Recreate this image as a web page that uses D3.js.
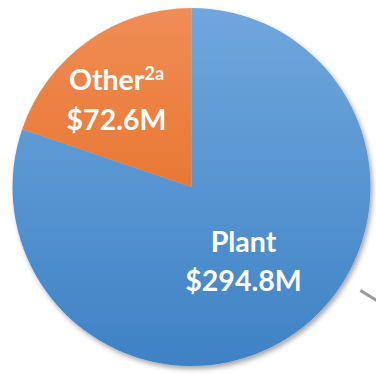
<!DOCTYPE html>
<html>
<head>
<meta charset="utf-8">
<script src="https://cdn.jsdelivr.net/npm/d3@7"></script>
<style>
  html, body { margin: 0; padding: 0; background: #fff; }
  svg { display: block; }
</style>
</head>
<body>
<svg id="chart" width="376" height="375"></svg>
<script>
// slice data, in drawing order (clockwise from 12 o'clock)
var categories = ["Plant", "Other"];
var values = [294.8, 72.6];
var valueLabels = ["$294.8M", "$72.6M"];
var superscripts = ["", "2a"];
var colorsTop = ["#70a7dd", "#f08d56"];
var colorsBottom = ["#3e82c5", "#e0640f"];

var cx = 191.5, cy = 187, radius = 179;

var svg = d3.select("#chart");
var defs = svg.append("defs");

// soft shadow like the office chart
var shadow = defs.append("filter")
  .attr("id", "shadow")
  .attr("x", "-10%").attr("y", "-10%")
  .attr("width", "120%").attr("height", "120%");
shadow.append("feDropShadow")
  .attr("dx", 2).attr("dy", 3)
  .attr("stdDeviation", 2.5)
  .attr("flood-color", "#000")
  .attr("flood-opacity", 0.35);

// vertical gradients, one per slice (in the pie's own coordinates)
categories.forEach(function(c, i) {
  var grad = defs.append("linearGradient")
    .attr("id", "grad" + i)
    .attr("gradientUnits", "userSpaceOnUse")
    .attr("x1", 0).attr("y1", -radius)
    .attr("x2", 0).attr("y2", radius);
  grad.append("stop").attr("offset", "0%").attr("stop-color", colorsTop[i]);
  grad.append("stop").attr("offset", "100%").attr("stop-color", colorsBottom[i]);
});

var pie = d3.pie().sort(null).value(function(d) { return d; });
var arcs = pie(values);
var arc = d3.arc().innerRadius(0).outerRadius(radius);

// leader line fragment on the right (part of a neighbouring callout)
var leaderAngle = 121.5 * Math.PI / 180;
svg.append("line")
  .attr("x1", cx + 198 * Math.sin(leaderAngle))
  .attr("y1", cy - 198 * Math.cos(leaderAngle))
  .attr("x2", cx + 240 * Math.sin(leaderAngle))
  .attr("y2", cy - 240 * Math.cos(leaderAngle))
  .attr("stroke", "#9a9a9a")
  .attr("stroke-width", 3);

var pieGroup = svg.append("g")
  .attr("transform", "translate(" + cx + "," + cy + ")")
  .attr("filter", "url(#shadow)");

pieGroup.selectAll("path")
  .data(arcs)
  .enter().append("path")
    .attr("d", arc)
    .attr("fill", function(d, i) { return "url(#grad" + i + ")"; });

// labels: offset of the label block centre from the pie centre
var labelNudge = [[52, 84], [-75, -77.5]];

var labels = svg.append("g")
  .attr("font-family", "Lato, 'Open Sans', sans-serif")
  .attr("font-weight", "bold")
  .attr("font-size", 28.5)
  .attr("fill", "#fff")
  .attr("text-anchor", "middle");

arcs.forEach(function(d, i) {
  var x = cx + labelNudge[i][0];
  var y = cy + labelNudge[i][1];
  var t1 = labels.append("text")
    .attr("x", x)
    .attr("y", y - 19.5);
  t1.append("tspan").text(categories[i]);
  if (superscripts[i]) {
    t1.append("tspan")
      .attr("font-size", 18)
      .attr("dy", -10)
      .text(superscripts[i]);
  }
  labels.append("text")
    .attr("x", x)
    .attr("y", y + 20)
    .text(valueLabels[i]);
});
</script>
</body>
</html>
